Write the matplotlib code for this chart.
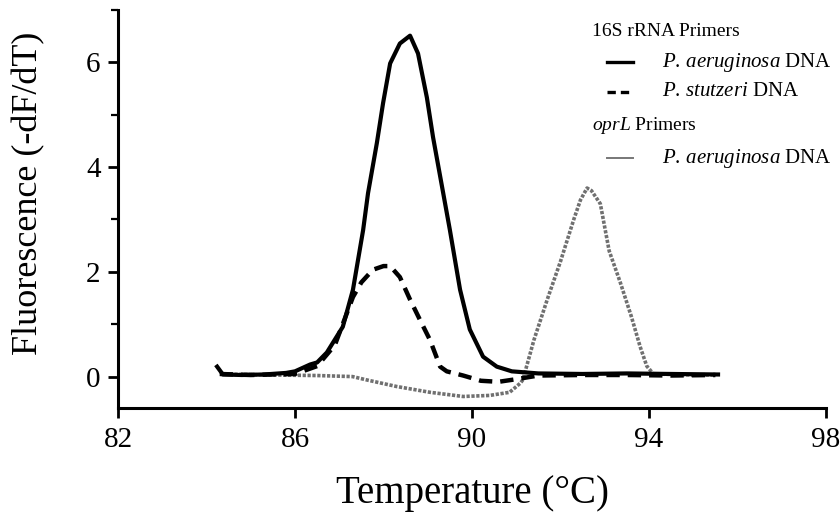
""" Melt curve derivative plot: 16S rRNA and oprL primers. """

import matplotlib
matplotlib.use('Agg')
import matplotlib.pyplot as plt
from matplotlib.ticker import MultipleLocator

plt.rcParams['font.family'] = ['Liberation Serif', 'DejaVu Serif']
plt.rcParams['mathtext.fontset'] = 'custom'
plt.rcParams['mathtext.rm'] = 'Liberation Serif'
plt.rcParams['mathtext.it'] = 'Liberation Serif:italic'

# 16S rRNA primers, P. aeruginosa DNA (solid)
temp_16s_pa = [84.24, 84.37, 84.8, 85.3, 85.8, 86.0, 86.34, 86.5, 86.72, 87.08, 87.31,
               87.54, 87.65, 87.85, 87.99, 88.15, 88.37, 88.6, 88.78, 88.98, 89.12,
               89.35, 89.5, 89.73, 89.95, 90.25, 90.56, 90.9, 91.5, 92.5, 93.5, 94.5, 95.56]
fluo_16s_pa = [0.19, 0.04, 0.03, 0.04, 0.07, 0.1, 0.23, 0.27, 0.46, 0.95, 1.66,
               2.8, 3.5, 4.46, 5.22, 5.98, 6.36, 6.51, 6.17, 5.33, 4.57,
               3.5, 2.8, 1.66, 0.9, 0.38, 0.19, 0.1, 0.06, 0.05, 0.06, 0.05, 0.04]

# 16S rRNA primers, P. stutzeri DNA (dashed)
temp_16s_ps = [84.3, 85.0, 86.0, 86.5, 86.9, 87.31, 87.5, 87.76, 88.0, 88.15, 88.37,
               88.6, 88.82, 89.05, 89.28, 89.43, 89.8, 90.2, 90.6, 91.0, 91.5,
               92.5, 93.5, 94.5, 95.5]
fluo_16s_ps = [0.05, 0.03, 0.05, 0.2, 0.6, 1.52, 1.8, 2.04, 2.11, 2.11, 1.9,
               1.47, 1.09, 0.7, 0.19, 0.1, 0.02, -0.08, -0.1, -0.05, 0.02,
               0.03, 0.03, 0.02, 0.03]

# oprL primers, P. aeruginosa DNA (gray dotted)
temp_oprl_pa = [84.3, 85.5, 86.5, 87.3, 87.6, 88.3, 89.05, 89.8, 90.4, 90.85, 91.1,
                91.15, 91.4, 91.7, 92.0, 92.3, 92.45, 92.6, 92.7, 92.9, 93.1,
                93.35, 93.6, 93.8, 93.95, 94.1, 95.0, 95.5]
fluo_oprl_pa = [0.05, 0.03, 0.02, 0.0, -0.06, -0.19, -0.3, -0.38, -0.36, -0.3, -0.12,
                -0.06, 0.7, 1.47, 2.2, 3.0, 3.37, 3.6, 3.55, 3.3, 2.4,
                1.8, 1.15, 0.57, 0.2, 0.05, 0.03, 0.03]

x_ticks = [82, 86, 90, 94, 98]
y_ticks = [0, 2, 4, 6]

fig = plt.figure(figsize=(8.4, 5.22), dpi=100)
ax = fig.add_axes([118 / 840, 114 / 522, 708 / 840, 398 / 522])

ax.plot(temp_oprl_pa, fluo_oprl_pa, color='#707070', lw=2.6, ls=(0, (0.9, 0.45)))
ax.plot(temp_16s_ps, fluo_16s_ps, color='black', lw=3.2, ls=(0, (3.0, 1.8)))
ax.plot(temp_16s_pa, fluo_16s_pa, color='black', lw=3.0)

ax.set_xlim(82, 98)
ax.set_ylim(-0.6, 7.0)
ax.set_xticks(x_ticks)
ax.set_yticks(y_ticks)
ax.yaxis.set_minor_locator(MultipleLocator(1))
ax.spines['top'].set_visible(False)
ax.spines['right'].set_visible(False)
for s in ('left', 'bottom'):
    ax.spines[s].set_linewidth(2.2)
ax.tick_params(axis='both', which='major', width=2.0, length=7.5, labelsize=21, direction='out')
ax.tick_params(axis='y', which='minor', width=1.6, length=5, direction='out')
ax.tick_params(axis='x', pad=6)
ax.tick_params(axis='y', pad=5)

ax.set_xlabel('Temperature (°C)', fontsize=28, labelpad=16)
ax.set_ylabel('Fluorescence (-dF/dT)', fontsize=26)
ax.yaxis.set_label_coords(-0.103, 0.54)


# hand-made legend, positioned in pixels like the original figure
def px(x, y):
    return (x - 118) / 708, (408 - y) / 398


ax.text(*px(592, 32), '16S rRNA Primers', transform=ax.transAxes, fontsize=14, va='center')
ax.text(*px(592, 126), r'$\mathit{oprL}$ Primers', transform=ax.transAxes, fontsize=14, va='center')

entries = [
    (62, r'$\mathit{P.\,aeruginosa}$ DNA', dict(color='black', lw=2.4, ls='-')),
    (92, r'$\mathit{P.\,stutzeri}$ DNA', dict(color='black', lw=2.4, ls=(0, (2.5, 1.5)))),
    (158, r'$\mathit{P.\,aeruginosa}$ DNA', dict(color='#777777', lw=1.4, ls='-')),
]
for y, label, style in entries:
    x0, yy = px(607, y)
    x1, _ = px(633, y)
    ax.plot([x0, x1], [yy, yy], transform=ax.transAxes, clip_on=False, **style)
    ax.text(*px(662, y), label, transform=ax.transAxes, fontsize=15, va='center')

plt.savefig('out.png', dpi=100)
